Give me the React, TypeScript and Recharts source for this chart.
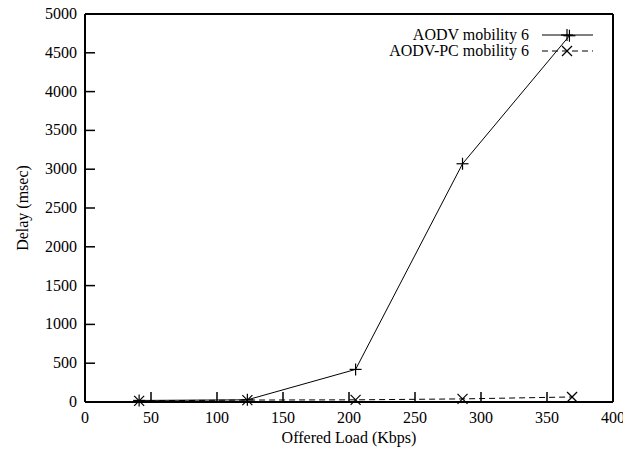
import React from 'react'
import {CartesianGrid, Legend, Line, LineChart, XAxis, YAxis} from 'recharts'

const aodvLoad = [41, 123, 205, 286, 367]
const aodvDelay = [20, 28, 420, 3070, 4720]
const pcLoad = [41, 123, 205, 286, 369]
const pcDelay = [15, 25, 28, 40, 65]
const xTicks = [0, 50, 100, 150, 200, 250, 300, 350, 400]
const yTicks = [0, 500, 1000, 1500, 2000, 2500, 3000, 3500, 4000, 4500, 5000]

const font = '"Liberation Serif", "Times New Roman", serif'
const ink = '#000'
const tickLen = 10

const aodv = aodvLoad.map((load, i) => ({load, delay: aodvDelay[i]}))
const pc = pcLoad.map((load, i) => ({load, delay: pcDelay[i]}))

function Plus({cx, cy}: any) {
  if (cx == null || cy == null) return null
  return (
    <g stroke={ink} strokeWidth={1.2}>
      <line x1={cx - 6} y1={cy} x2={cx + 6} y2={cy} />
      <line x1={cx} y1={cy - 6} x2={cx} y2={cy + 6} />
    </g>
  )
}

function Cross({cx, cy}: any) {
  if (cx == null || cy == null) return null
  return (
    <g stroke={ink} strokeWidth={1.2}>
      <line x1={cx - 5} y1={cy - 5} x2={cx + 5} y2={cy + 5} />
      <line x1={cx - 5} y1={cy + 5} x2={cx + 5} y2={cy - 5} />
    </g>
  )
}

function BottomTick({x, y, payload}: any) {
  return (
    <g>
      {payload.value !== 0 && payload.value !== 400 && (
        <line x1={x} y1={y} x2={x} y2={y - tickLen} stroke={ink} strokeWidth={1.5} />
      )}
      <text x={x} y={y + 21} textAnchor="middle" fontFamily={font} fontSize={16} fill={ink}>
        {payload.value}
      </text>
    </g>
  )
}

function TopTick({x, y, payload}: any) {
  if (payload.value === 0 || payload.value === 400) return null
  return <line x1={x} y1={y} x2={x} y2={y + tickLen} stroke={ink} strokeWidth={1.5} />
}

function LeftTick({x, y, payload}: any) {
  return (
    <g>
      {payload.value !== 0 && payload.value !== 5000 && (
        <line x1={x + 8} y1={y} x2={x + 8 + tickLen} y2={y} stroke={ink} strokeWidth={1.5} />
      )}
      <text x={x} y={y + 5} textAnchor="end" fontFamily={font} fontSize={16} fill={ink}>
        {payload.value}
      </text>
    </g>
  )
}

function RightTick({x, y, payload}: any) {
  if (payload.value === 0 || payload.value === 5000) return null
  return <line x1={x} y1={y} x2={x - tickLen} y2={y} stroke={ink} strokeWidth={1.5} />
}

function YTitle({viewBox}: any) {
  const cx = viewBox.x + 22
  const cy = viewBox.y + viewBox.height / 2
  return (
    <text x={cx} y={cy} transform={`rotate(-90, ${cx}, ${cy})`} textAnchor="middle" dominantBaseline="central" fontFamily={font} fontSize={16} fill={ink}>
      Delay (msec)
    </text>
  )
}

const legendRows = [
  {name: 'AODV mobility 6', dash: undefined, Marker: Plus},
  {name: 'AODV-PC mobility 6', dash: '6 4', Marker: Cross},
]

function LegendBox() {
  return (
    <div style={{fontFamily: font, fontSize: 16, color: ink, lineHeight: '16px'}}>
      {legendRows.map(({name, dash, Marker}) => (
        <div key={name} style={{display: 'flex', alignItems: 'center', justifyContent: 'flex-end', height: 16}}>
          <span style={{marginRight: 13}}>{name}</span>
          <svg width={51} height={16}>
            <line x1={0} y1={8} x2={51} y2={8} stroke={ink} strokeWidth={1} strokeDasharray={dash} />
            <Marker cx={25} cy={8} />
          </svg>
        </div>
      ))}
    </div>
  )
}

export default function App() {
  return (
    <div style={{position: 'absolute', left: 0, top: 0, background: '#fff'}}>
      <LineChart width={623} height={452} margin={{top: 0, right: 0, bottom: 0, left: 0}}>
        <CartesianGrid stroke="none" />
        <XAxis
          xAxisId="bottom"
          type="number"
          dataKey="load"
          domain={[0, 400]}
          ticks={xTicks}
          height={50}
          axisLine={{stroke: ink, strokeWidth: 2}}
          tickLine={false}
          tickSize={0}
          tickMargin={0}
          tick={<BottomTick />}
          interval={0}
          label={{value: 'Offered Load (Kbps)', position: 'insideBottom', offset: 9, fontFamily: font, fontSize: 16, fill: ink}}
        />
        <XAxis
          xAxisId="top"
          orientation="top"
          type="number"
          dataKey="load"
          domain={[0, 400]}
          ticks={xTicks}
          height={14}
          axisLine={{stroke: ink, strokeWidth: 2}}
          tickLine={false}
          tickSize={0}
          tickMargin={0}
          tick={<TopTick />}
          interval={0}
        />
        <YAxis
          yAxisId="left"
          type="number"
          domain={[0, 5000]}
          ticks={yTicks}
          width={85}
          axisLine={{stroke: ink, strokeWidth: 2}}
          tickLine={false}
          tickSize={0}
          tickMargin={8}
          tick={<LeftTick />}
          interval={0}
          label={<YTitle />}
        />
        <YAxis
          yAxisId="right"
          orientation="right"
          type="number"
          domain={[0, 5000]}
          ticks={yTicks}
          width={10}
          axisLine={{stroke: ink, strokeWidth: 2}}
          tickLine={false}
          tickSize={0}
          tickMargin={0}
          tick={<RightTick />}
          interval={0}
        />
        <Legend
          layout="vertical"
          align="center"
          verticalAlign="middle"
          content={<LegendBox />}
          wrapperStyle={{top: 27, right: 30, left: 'auto', width: 'auto'}}
        />
        <Line
          xAxisId="bottom"
          yAxisId="left"
          data={aodv}
          dataKey="delay"
          name="AODV mobility 6"
          type="linear"
          stroke={ink}
          strokeWidth={1}
          dot={<Plus />}
          activeDot={false}
          isAnimationActive={false}
        />
        <Line
          xAxisId="bottom"
          yAxisId="left"
          data={pc}
          dataKey="delay"
          name="AODV-PC mobility 6"
          type="linear"
          stroke={ink}
          strokeWidth={1}
          strokeDasharray="6 4"
          dot={<Cross />}
          activeDot={false}
          isAnimationActive={false}
        />
      </LineChart>
    </div>
  )
}
